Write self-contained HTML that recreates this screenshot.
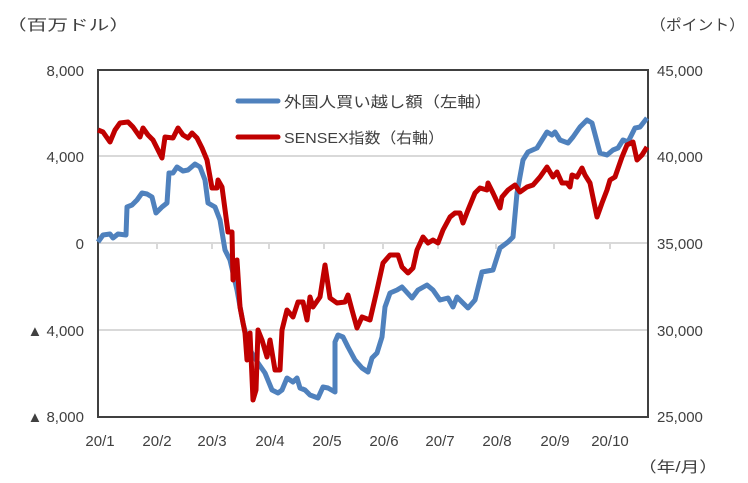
<!DOCTYPE html>
<html><head><meta charset="utf-8"><style>
body{margin:0;background:#fff}
svg{display:block}
text{font-family:"Liberation Sans","Noto Sans CJK JP",sans-serif;fill:#404040;font-size:15px}
</style></head><body>
<svg width="748" height="483" viewBox="0 0 748 483">
<rect x="0" y="0" width="748" height="483" fill="#fff"/>
<g stroke="#d9d9d9" stroke-width="2">
<line x1="98" y1="156" x2="648" y2="156"/>
<line x1="98" y1="330" x2="648" y2="330"/>
<line x1="98" y1="243" x2="648" y2="243"/>
</g>
<g stroke="#d9d9d9" stroke-width="2">
<line x1="157" y1="243" x2="157" y2="249"/><line x1="212" y1="243" x2="212" y2="249"/>
<line x1="269" y1="243" x2="269" y2="249"/><line x1="324" y1="243" x2="324" y2="249"/>
<line x1="383" y1="243" x2="383" y2="249"/><line x1="438" y1="243" x2="438" y2="249"/>
<line x1="496" y1="243" x2="496" y2="249"/><line x1="554" y1="243" x2="554" y2="249"/>
<line x1="610" y1="243" x2="610" y2="249"/>
</g>
<rect x="98" y="70" width="550" height="347" fill="none" stroke="#404040" stroke-width="2"/>
<polyline fill="none" stroke="#4f81bd" stroke-width="5" stroke-linejoin="round" points="98,242 103,235 110,234 113,238 118,234 126,235 127,207 132,205 137,200 142,193 147,194 152,197 156,213 162,207 167,203 169,173 173,173 177,167 183,171 188,170 195,164 200,167 205,180 208,203 215,207 220,220 225,250 230,260 237,290 243,323 250,350 258,363 265,373 272,390 278,393 282,390 287,378 293,382 297,378 300,388 305,390 310,395 318,398 323,387 328,388 335,392 335,342 338,335 343,337 348,347 355,360 362,368 368,372 372,358 377,353 382,337 385,307 390,293 397,290 402,287 412,298 418,290 427,285 433,290 440,300 448,298 453,307 457,297 468,308 475,300 482,272 493,270 500,248 508,242 513,237 517,193 523,160 528,152 537,148 547,132 552,135 555,132 560,140 568,143 573,137 580,127 587,120 592,123 600,153 607,155 613,150 618,148 623,140 628,142 635,128 640,127 647,118"/>
<polyline fill="none" stroke="#c00000" stroke-width="5" stroke-linejoin="round" points="98,130 103,132 110,142 115,130 120,123 128,122 133,127 140,137 143,128 148,135 153,140 162,158 165,137 173,138 178,128 183,135 188,138 192,133 197,138 202,148 207,160 212,188 217,188 218,180 222,187 228,232 232,232 233,280 237,260 240,307 245,333 247,360 250,333 253,400 256,390 258,330 262,340 267,357 270,340 275,370 280,370 282,330 287,310 293,317 298,302 303,302 307,320 310,297 313,307 320,297 325,265 330,298 337,303 345,302 348,295 352,310 357,328 362,317 370,320 377,290 383,263 390,255 398,255 402,267 408,273 413,268 417,250 423,237 428,243 433,240 438,243 443,230 450,217 455,213 460,213 463,223 468,210 475,193 480,188 487,190 488,183 493,193 500,208 502,197 508,190 515,185 520,192 527,187 533,185 540,177 547,167 553,177 557,172 562,183 567,183 570,187 572,175 577,177 582,168 585,175 590,183 597,217 602,203 607,190 610,180 615,177 622,157 627,145 633,142 637,160 642,155 647,147"/>
<line x1="238" y1="101" x2="278" y2="101" stroke="#4f81bd" stroke-width="5" stroke-linecap="round"/>
<text x="284" y="107" font-size="16" textLength="208" lengthAdjust="spacingAndGlyphs">外国人買い越し額（左軸）</text>
<line x1="238" y1="137" x2="278" y2="137" stroke="#c00000" stroke-width="5" stroke-linecap="round"/>
<text x="284" y="143" font-size="16" textLength="160" lengthAdjust="spacingAndGlyphs">SENSEX指数（右軸）</text>
<text x="6" y="30" font-size="20" textLength="124" lengthAdjust="spacingAndGlyphs">（百万ドル）</text>
<text x="650" y="30" font-size="20" textLength="95" lengthAdjust="spacingAndGlyphs">（ポイント）</text>
<g text-anchor="end" font-size="16">
<text x="84" y="76">8,000</text>
<text x="84" y="162">4,000</text>
<text x="84" y="249">0</text>
<text x="84" y="336">▲ 4,000</text>
<text x="84" y="422">▲ 8,000</text>
</g>
<g font-size="16">
<text x="657" y="76">45,000</text>
<text x="657" y="162">40,000</text>
<text x="657" y="249">35,000</text>
<text x="657" y="336">30,000</text>
<text x="657" y="422">25,000</text>
</g>
<g text-anchor="middle" font-size="16">
<text x="100" y="446">20/1</text><text x="157" y="446">20/2</text>
<text x="212" y="446">20/3</text><text x="270" y="446">20/4</text>
<text x="327" y="446">20/5</text><text x="384" y="446">20/6</text>
<text x="440" y="446">20/7</text><text x="497" y="446">20/8</text>
<text x="555" y="446">20/9</text><text x="610" y="446">20/10</text>
</g>
<text x="638" y="472" font-size="20" textLength="80" lengthAdjust="spacingAndGlyphs">（年/月）</text>
</svg>
</body></html>
